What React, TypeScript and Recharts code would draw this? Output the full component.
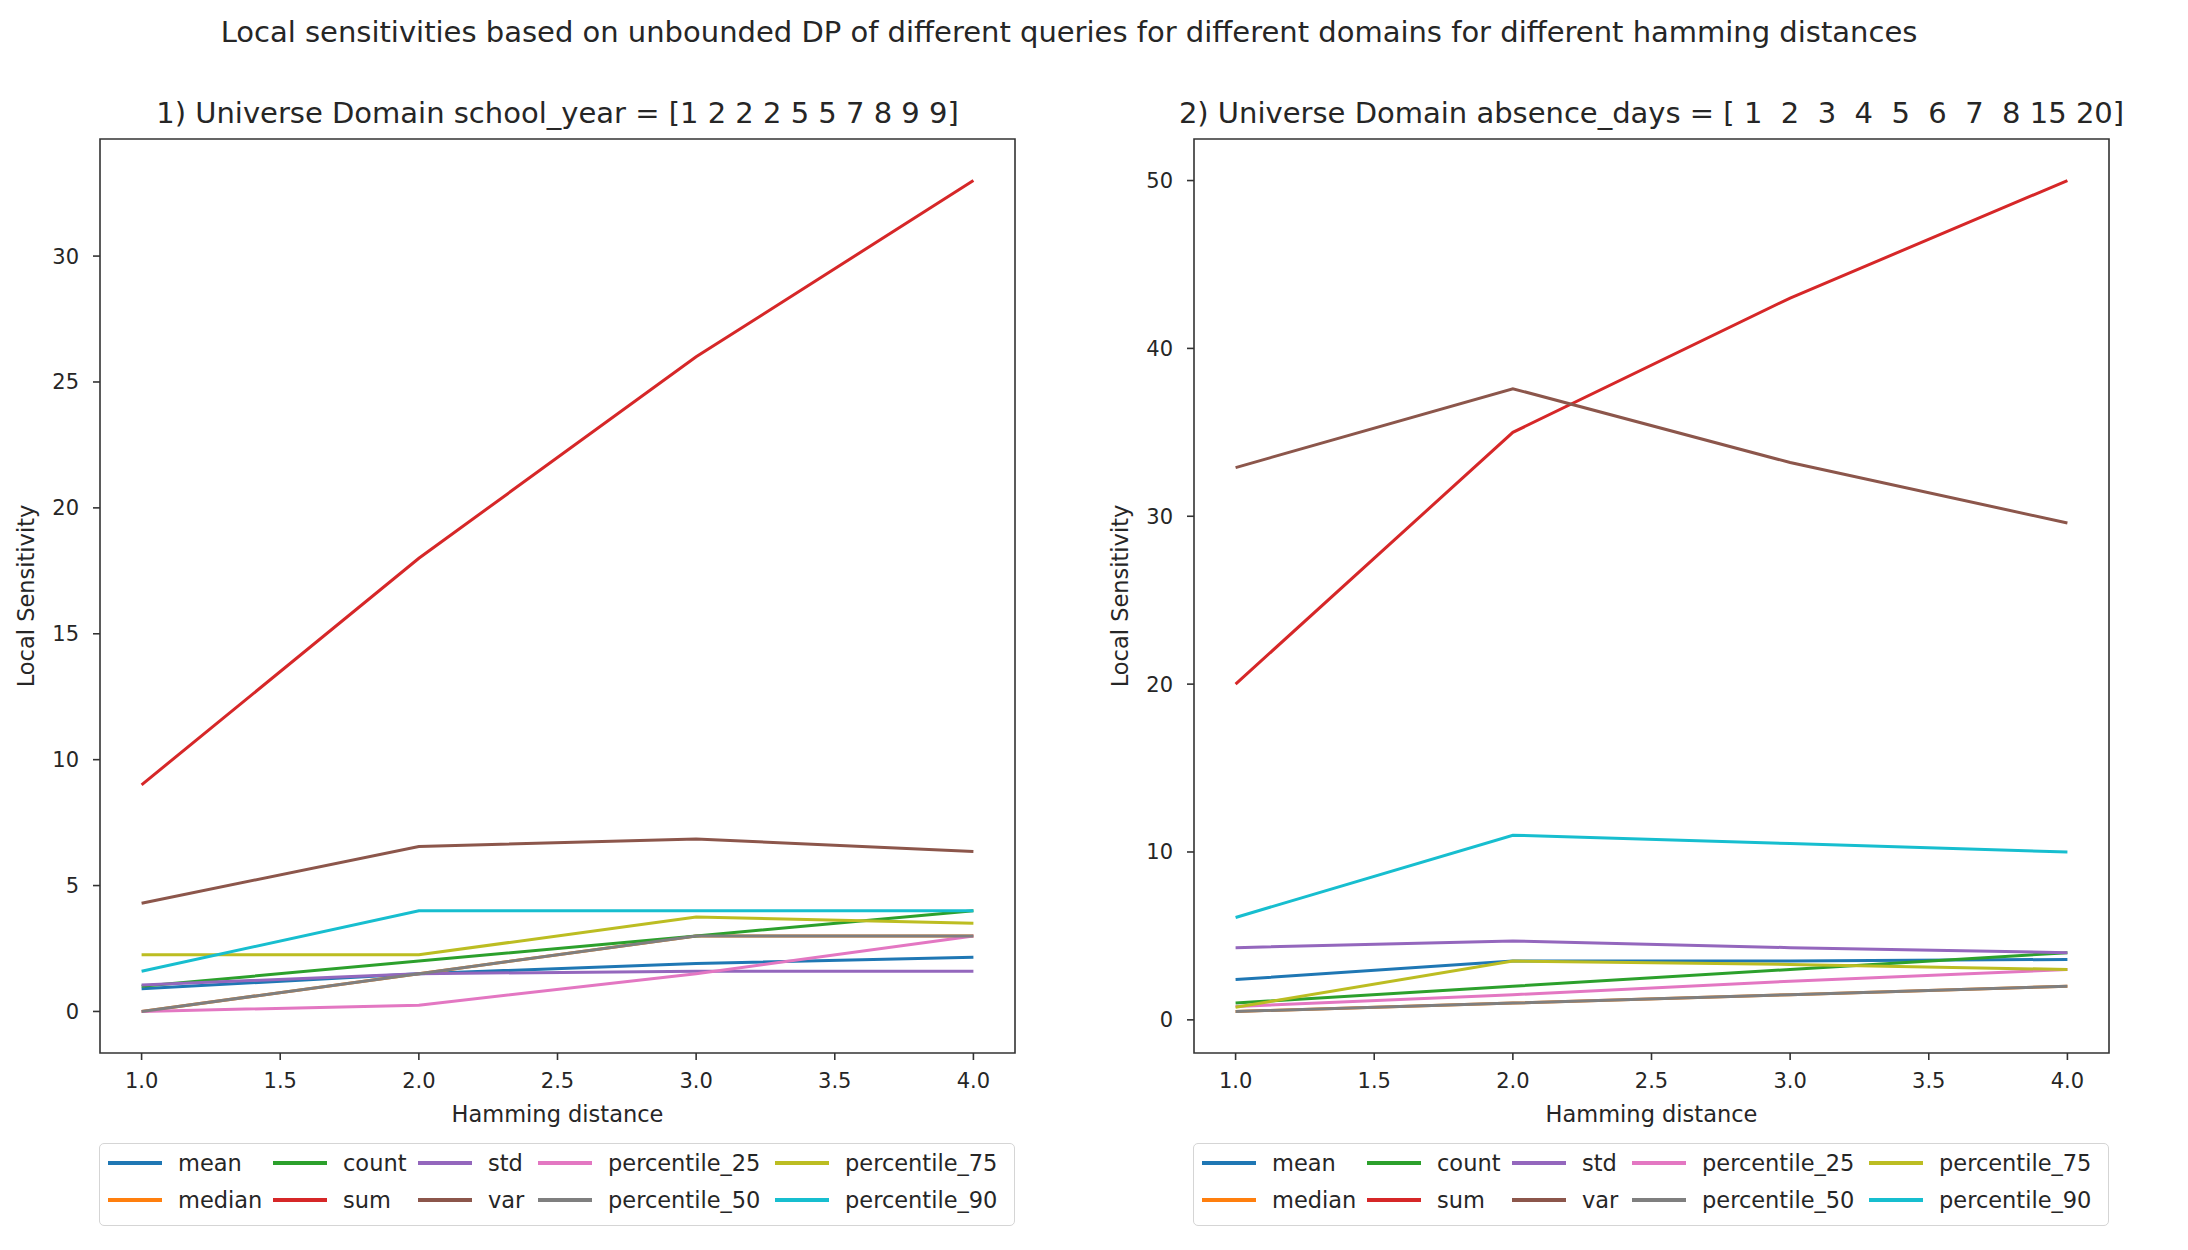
import { LineChart, Line, XAxis, YAxis, Legend, ReferenceArea } from "recharts";

// hamming distances on the x axis
const hamming = [1, 2, 3, 4];
const xTicks = [1, 1.5, 2, 2.5, 3, 3.5, 4];

const seriesNames = [
  "mean",
  "median",
  "count",
  "sum",
  "std",
  "var",
  "percentile_25",
  "percentile_50",
  "percentile_75",
  "percentile_90",
];
const seriesColors = [
  "#1f77b4",
  "#ff7f0e",
  "#2ca02c",
  "#d62728",
  "#9467bd",
  "#8c564b",
  "#e377c2",
  "#7f7f7f",
  "#bcbd22",
  "#17becf",
];

// 1) school_year
const schoolMean = [0.9, 1.5, 1.9, 2.15];
const schoolMedian = [0, 1.5, 3, 3];
const schoolCount = [1, 2, 3, 4];
const schoolSum = [9, 18, 26, 33];
const schoolStd = [1.05, 1.5, 1.6, 1.6];
const schoolVar = [4.3, 6.55, 6.85, 6.35];
const schoolP25 = [0, 0.25, 1.5, 3];
const schoolP50 = [0, 1.5, 3, 3];
const schoolP75 = [2.25, 2.25, 3.75, 3.5];
const schoolP90 = [1.6, 4, 4, 4];
const schoolYTicks = [0, 5, 10, 15, 20, 25, 30];

// 2) absence_days
const absenceMean = [2.4, 3.5, 3.5, 3.6];
const absenceMedian = [0.5, 1, 1.5, 2];
const absenceCount = [1, 2, 3, 4];
const absenceSum = [20, 35, 43, 50];
const absenceStd = [4.3, 4.7, 4.3, 4.0];
const absenceVar = [32.9, 37.6, 33.2, 29.6];
const absenceP25 = [0.8, 1.5, 2.3, 3];
const absenceP50 = [0.5, 1, 1.5, 2];
const absenceP75 = [0.75, 3.5, 3.3, 3];
const absenceP90 = [6.1, 11, 10.5, 10];
const absenceYTicks = [0, 10, 20, 30, 40, 50];

const buildRows = (values: number[][]) =>
  hamming.map((h, i) => {
    const row: Record<string, number> = { h };
    seriesNames.forEach((n, k) => {
      row[n] = values[k][i];
    });
    return row;
  });

const schoolRows = buildRows([
  schoolMean, schoolMedian, schoolCount, schoolSum, schoolStd,
  schoolVar, schoolP25, schoolP50, schoolP75, schoolP90,
]);
const absenceRows = buildRows([
  absenceMean, absenceMedian, absenceCount, absenceSum, absenceStd,
  absenceVar, absenceP25, absenceP50, absenceP75, absenceP90,
]);

// matplotlib-ish padding: 5% of data range each side
const padDomain = (min: number, max: number): [number, number] => {
  const m = (max - min) * 0.05;
  return [min - m, max + m];
};

const FONT = '"DejaVu Sans", sans-serif';
const TEXT = "#262626";
const SPINE = "#333";

const PANEL_W = 1094;
const PANEL_H = 1250;
const PLOT = { left: 100, right: 1015, top: 139, bottom: 1053 };
const Y_AXIS_W = 80;
const X_AXIS_H = 50;

const legendCols = [8, 173, 318, 438, 675];
const legendRows = [19, 56];

const LegendBox = () => (
  <div
    style={{
      position: "relative",
      width: 916,
      height: 83,
      boxSizing: "border-box",
      border: "1.5px solid #d5d5d5",
      borderRadius: 5,
      fontFamily: FONT,
      fontSize: 22.5,
      color: TEXT,
      background: "#fff",
    }}
  >
    {seriesNames.map((n, i) => {
      const col = Math.floor(i / 2);
      const row = i % 2;
      const x = legendCols[col];
      const y = legendRows[row];
      return (
        <div key={n}>
          <div
            style={{
              position: "absolute",
              left: x,
              top: y - 2,
              width: 54,
              height: 4,
              background: seriesColors[i],
            }}
          />
          <div
            style={{
              position: "absolute",
              left: x + 70,
              top: y - 15,
              height: 30,
              lineHeight: "30px",
              whiteSpace: "nowrap",
            }}
          >
            {n}
          </div>
        </div>
      );
    })}
  </div>
);

interface PanelProps {
  title: string;
  rows: Record<string, number>[];
  yDomain: [number, number];
  yTicks: number[];
}

const Panel = ({ title, rows, yDomain, yTicks }: PanelProps) => {
  const cx = (PLOT.left + PLOT.right) / 2;
  const cy = (PLOT.top + PLOT.bottom) / 2;
  const xDomain = padDomain(1, 4);
  return (
    <div style={{ position: "relative", width: PANEL_W, height: PANEL_H }}>
      <LineChart
        width={PANEL_W}
        height={PANEL_H}
        data={rows}
        margin={{
          top: PLOT.top,
          right: PANEL_W - PLOT.right,
          bottom: PANEL_H - PLOT.bottom - X_AXIS_H,
          left: PLOT.left - Y_AXIS_W,
        }}
      >
        <XAxis
          dataKey="h"
          type="number"
          domain={xDomain}
          ticks={xTicks}
          allowDataOverflow
          tickFormatter={(v: number) => v.toFixed(1)}
          height={X_AXIS_H}
          axisLine={false}
          tickLine={{ stroke: SPINE, strokeWidth: 1.6 }}
          tickSize={7}
          tickMargin={13}
          tick={{ fontSize: 21, fill: TEXT, fontFamily: FONT }}
        />
        <YAxis
          type="number"
          domain={yDomain}
          ticks={yTicks}
          allowDataOverflow
          width={Y_AXIS_W}
          axisLine={false}
          tickLine={{ stroke: SPINE, strokeWidth: 1.6 }}
          tickSize={7}
          tickMargin={14}
          tick={{ fontSize: 21, fill: TEXT, fontFamily: FONT }}
        />
        <ReferenceArea
          x1={xDomain[0]}
          x2={xDomain[1]}
          y1={yDomain[0]}
          y2={yDomain[1]}
          fill="none"
          fillOpacity={0}
          stroke={SPINE}
          strokeWidth={1.6}
          ifOverflow="visible"
        />
        {seriesNames.map((n, k) => (
          <Line
            key={n}
            dataKey={n}
            name={n}
            type="linear"
            stroke={seriesColors[k]}
            strokeWidth={3}
            dot={false}
            activeDot={false}
            isAnimationActive={false}
          />
        ))}
        <Legend
          layout="horizontal"
          verticalAlign="middle"
          align="center"
          wrapperStyle={{ position: "absolute", left: 99, top: 1143, width: 916, height: 83 }}
          content={() => <LegendBox />}
        />
      </LineChart>
      <svg
        width={PANEL_W}
        height={PANEL_H}
        style={{ position: "absolute", left: 0, top: 0, pointerEvents: "none" }}
        fontFamily={FONT}
        fill={TEXT}
      >
        <text
          x={cx}
          y={123}
          textAnchor="middle"
          fontSize={29}
          style={{ whiteSpace: "pre" }}
        >
          {title}
        </text>
        <text x={cx} y={1122} textAnchor="middle" fontSize={22.5}>
          Hamming distance
        </text>
        <text
          x={34}
          y={cy}
          textAnchor="middle"
          fontSize={22.5}
          transform={`rotate(-90, 34, ${cy})`}
        >
          Local Sensitivity
        </text>
      </svg>
    </div>
  );
};

export default function App() {
  return (
    <div
      style={{
        position: "absolute",
        left: 0,
        top: 0,
        width: 2188,
        height: 1250,
        background: "#fff",
        fontFamily: FONT,
      }}
    >
      <svg
        width={2188}
        height={60}
        style={{ position: "absolute", left: 0, top: 0 }}
        fontFamily={FONT}
        fill={TEXT}
      >
        <text x={1069} y={42} textAnchor="middle" fontSize={29}>
          Local sensitivities based on unbounded DP of different queries for different domains for different hamming distances
        </text>
      </svg>
      <div style={{ position: "absolute", left: 0, top: 0, display: "flex" }}>
        <Panel
          title="1) Universe Domain school_year = [1 2 2 2 5 5 7 8 9 9]"
          rows={schoolRows}
          yDomain={padDomain(0, 33)}
          yTicks={schoolYTicks}
        />
        <Panel
          title="2) Universe Domain absence_days = [ 1  2  3  4  5  6  7  8 15 20]"
          rows={absenceRows}
          yDomain={padDomain(0.5, 50)}
          yTicks={absenceYTicks}
        />
      </div>
    </div>
  );
}
